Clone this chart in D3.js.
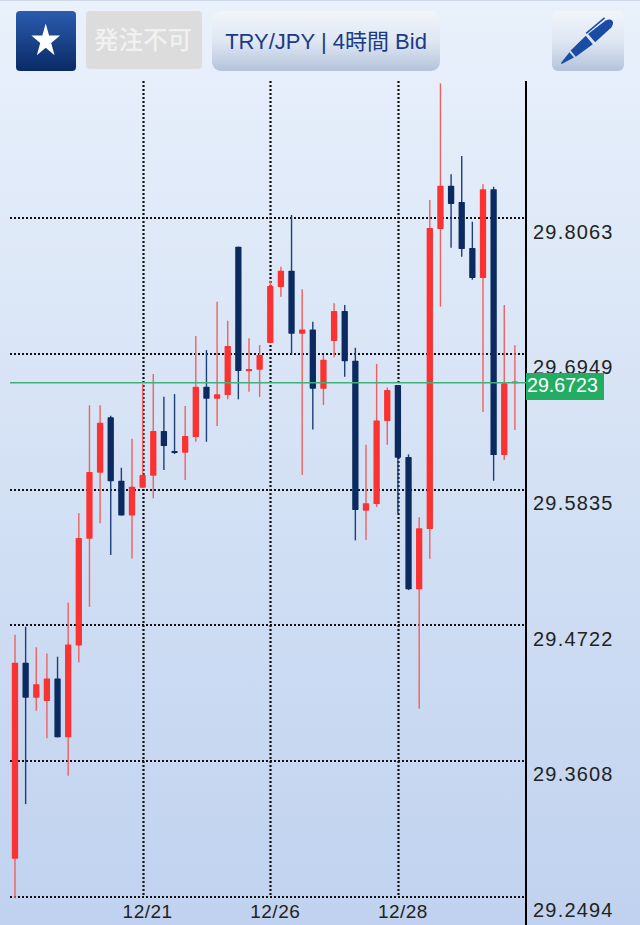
<!DOCTYPE html>
<html><head><meta charset="utf-8">
<script src="https://cdnjs.cloudflare.com/ajax/libs/d3/7.8.5/d3.min.js"></script>
<style>html,body{margin:0;padding:0;background:#fff}svg{display:block}
text{font-family:"Liberation Sans",Arial,sans-serif}</style></head><body><div id="c"></div>
<script>
const opens=[29.2805,29.4414,29.4127,29.4100,29.4286,29.3802,29.4557,29.5432,29.5974,29.6429,29.5908,29.5624,29.5851,29.5950,29.6316,29.6152,29.6138,29.6267,29.6680,29.6582,29.6612,29.7830,29.6807,29.6820,29.7039,29.7499,29.7633,29.7115,29.7151,29.6664,29.7055,29.7302,29.6894,29.5662,29.5717,29.6399,29.6694,29.6103,29.5017,29.5512,29.7975,29.8330,29.8197,29.7819,29.7573,29.8301,29.6119,29.6723];
const closes=[29.4414,29.4127,29.4239,29.4286,29.3802,29.4565,29.5438,29.5980,29.6385,29.5904,29.5624,29.5859,29.5955,29.6316,29.6193,29.6138,29.6275,29.6680,29.6582,29.6618,29.7014,29.6809,29.6826,29.6940,29.7507,29.7633,29.7115,29.7151,29.6664,29.6902,29.7302,29.6889,29.5668,29.5723,29.6404,29.6653,29.6097,29.5017,29.5518,29.7983,29.8330,29.8180,29.7811,29.7573,29.8301,29.6119,29.6708,29.6723];
const highs=[29.4644,29.4710,29.4541,29.4491,29.4464,29.4910,29.5641,29.6528,29.6528,29.6442,29.6015,29.6253,29.6702,29.6784,29.6598,29.6620,29.6522,29.7096,29.6981,29.7378,29.7222,29.7830,29.7078,29.7023,29.7550,29.7665,29.8090,29.7480,29.7214,29.6940,29.7365,29.7351,29.7000,29.6204,29.6867,29.6675,29.6694,29.6125,29.5608,29.8213,29.9171,29.8424,29.8574,29.8035,29.8342,29.8322,29.7351,29.7020];
const lows=[29.2482,29.3254,29.4020,29.3794,29.3802,29.3487,29.4418,29.4874,29.5559,29.5298,29.5624,29.5271,29.5851,29.5764,29.5996,29.6128,29.5914,29.6229,29.6229,29.6358,29.6577,29.6577,29.6639,29.6596,29.7039,29.7419,29.6946,29.5955,29.6330,29.6530,29.6922,29.6762,29.5419,29.5422,29.5693,29.6204,29.5643,29.5011,29.4037,29.5268,29.7337,29.7821,29.7748,29.7559,29.6472,29.5908,29.6078,29.6325];
const priceTicks=[29.8063,29.6949,29.5835,29.4722,29.3608,29.2494];
const dateIndex=[12,24,36];
const dateLabels=["12/21","12/26","12/28"];
const lastPrice=29.6723;
const buttonLabels=["発注不可","TRY/JPY | 4時間 Bid"];

const W=640,H=925;
const svg=d3.select("#c").append("svg").attr("width",W).attr("height",H);
const defs=svg.append("defs");
function grad(id,stops){const g=defs.append("linearGradient").attr("id",id).attr("x1",0).attr("x2",0).attr("y1",0).attr("y2",1);
 stops.forEach(s=>g.append("stop").attr("offset",s[0]).attr("stop-color",s[1]));}
grad("bg",[[0,"#e9f1fb"],[1,"#c0d2ef"]]);
grad("navyBtn",[[0,"#2b5cae"],[1,"#0a2a66"]]);
grad("btn",[[0,"#f1f5fb"],[0.5,"#dfe7f3"],[1,"#b4c3da"]]);
svg.append("rect").attr("width",W).attr("height",H).attr("fill","url(#bg)");
svg.append("rect").attr("width",W).attr("height",1).attr("fill","#ccd6e6");

const x=d3.scaleLinear().domain([0,47]).range([15,514.9]);
const y=d3.scaleLinear().domain([29.2494,29.8063]).range([896.7,218.3]);
const dots="2 2";
svg.append("g").selectAll("line").data(priceTicks).join("line")
 .attr("x1",10).attr("x2",525).attr("y1",d=>Math.round(y(d))).attr("y2",d=>Math.round(y(d)))
 .attr("stroke","#111").attr("stroke-width",2).attr("stroke-dasharray",dots);
svg.append("g").selectAll("line").data(dateIndex).join("line")
 .attr("x1",d=>Math.round(x(d))+.5).attr("x2",d=>Math.round(x(d))+.5).attr("y1",81).attr("y2",897)
 .attr("stroke","#111").attr("stroke-width",2.2).attr("stroke-dasharray",dots);
const idx=d3.range(opens.length);
const col=i=>closes[i]>=opens[i]?"#fb3232":"#0b2a60";
const wick=i=>closes[i]>=opens[i]?"#f0605e":"#1c3f78";
svg.append("g").selectAll("line").data(idx).join("line")
 .attr("x1",x).attr("x2",x).attr("y1",i=>y(highs[i])).attr("y2",i=>y(lows[i]))
 .attr("stroke",wick).attr("stroke-width",1.4);
svg.append("g").selectAll("rect").data(idx).join("rect")
 .attr("x",i=>x(i)-3.15).attr("width",6.3)
 .attr("y",i=>y(Math.max(opens[i],closes[i])))
 .attr("height",i=>Math.max(1.8,Math.abs(y(opens[i])-y(closes[i]))))
 .attr("fill",col).attr("rx",.7);
svg.append("line").attr("x1",526).attr("x2",526).attr("y1",81).attr("y2",925).attr("stroke","#000").attr("stroke-width",2);
const yLast=Math.round(y(lastPrice))+.8;
svg.append("line").attr("x1",10).attr("x2",526).attr("y1",yLast).attr("y2",yLast).attr("stroke","#3fb077").attr("stroke-width",1.5);
svg.append("g").selectAll("text").data(priceTicks).join("text")
 .attr("x",533).attr("y",d=>y(d)+20.3).attr("font-size",20).attr("letter-spacing",1.2).attr("fill","#222").text(d=>d.toFixed(4));
svg.append("rect").attr("x",526).attr("y",373).attr("width",78).attr("height",27).attr("fill","#22ad62");
svg.append("text").attr("x",527).attr("y",392).attr("font-size",19.6).attr("fill","#fff").text(lastPrice.toFixed(4));
svg.append("g").selectAll("text").data(dateIndex).join("text")
 .attr("x",i=>x(i)+5).attr("y",918).attr("text-anchor","middle").attr("font-size",19).attr("letter-spacing",.5).attr("fill","#222")
 .text((d,i)=>dateLabels[i]);
svg.append("rect").attr("x",16).attr("y",11).attr("width",60).attr("height",60).attr("rx",4).attr("fill","url(#navyBtn)");
const star=d3.symbol().type(d3.symbolStar).size(330)();
svg.append("path").attr("d",star).attr("transform","translate(45.7,41) scale(0.88,1.02)").attr("fill","#fff");
svg.append("rect").attr("x",86).attr("y",11).attr("width",116).attr("height",58).attr("rx",4).attr("fill","#dcdcdc");
svg.append("text").attr("x",143).attr("y",49).attr("text-anchor","middle").attr("font-size",24.5).attr("font-weight",500).attr("style",'font-family:"Noto Sans CJK JP"').attr("fill","#f1f1f1").text(buttonLabels[0]);
svg.append("rect").attr("x",212).attr("y",11).attr("width",228).attr("height",60).attr("rx",9).attr("fill","url(#btn)");
svg.append("text").attr("x",326).attr("y",49).attr("text-anchor","middle").attr("font-size",22).attr("style",'font-family:"Liberation Sans","Noto Sans CJK JP"').attr("fill","#1d3a86").text(buttonLabels[1]);
svg.append("rect").attr("x",552).attr("y",11).attr("width",72).attr("height",60).attr("rx",6).attr("fill","url(#btn)");
const pen=svg.append("g").attr("transform","translate(587,42) rotate(50)").attr("fill","#1a4ca6");
pen.append("path").attr("d","M-3.5,20 L3.5,20 L0.6,33.5 L-0.6,33.5 Z");
pen.append("path").attr("d","M-5.5,-3 L5.5,-3 L4,18 L-4,18 Z");
pen.append("path").attr("d","M-5.5,-6 L5.5,-6 L4.5,-28 Q3,-33 0,-33 Q-3,-33 -4.5,-28 Z");
pen.append("rect").attr("x",-8).attr("y",-29).attr("width",1.6).attr("height",24);
</script></body></html>
